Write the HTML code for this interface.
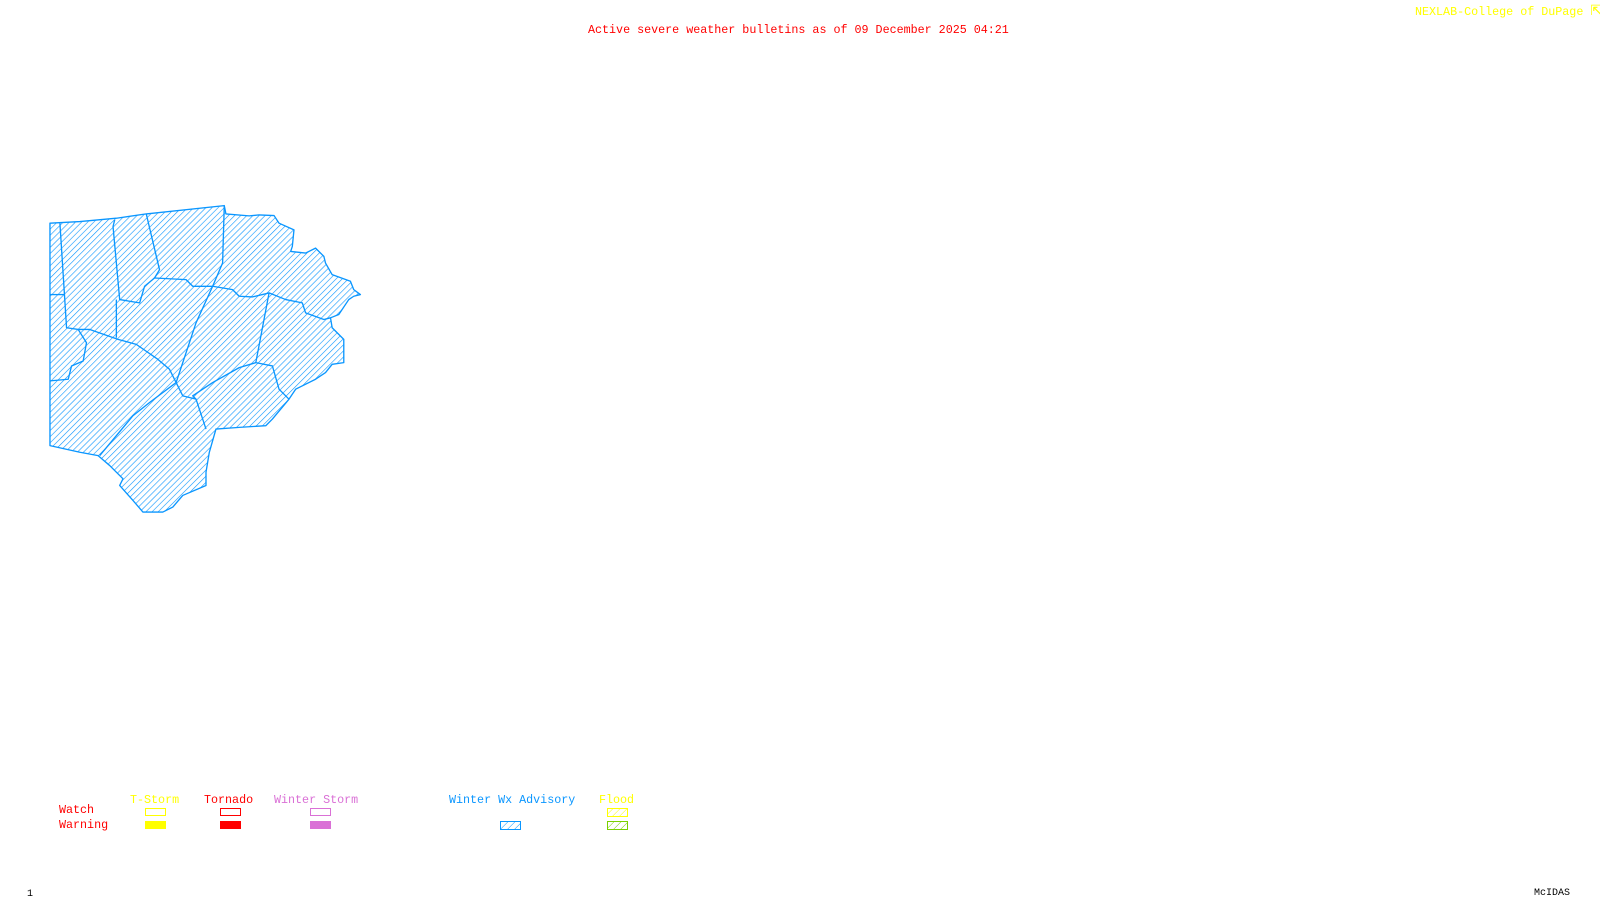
<!DOCTYPE html>
<html><head><meta charset="utf-8"><style>
html,body{margin:0;padding:0;background:#fff;}
body{width:1600px;height:900px;position:relative;overflow:hidden;font-family:"Liberation Mono",monospace;font-size:11.7px;}
.t{position:absolute;white-space:pre;line-height:12px;}
.b{position:absolute;box-sizing:border-box;width:21px;height:8px;}
</style></head><body>
<svg width="1600" height="900" style="position:absolute;left:0;top:0">
<defs>
<pattern id="h" patternUnits="userSpaceOnUse" width="13" height="13" patternTransform="rotate(45)">
<line x1="0" y1="0" x2="0" y2="13" stroke="#0a96ff" stroke-width="3.6"/>
</pattern>
<pattern id="h2" patternUnits="userSpaceOnUse" width="5" height="5" patternTransform="rotate(45)">
<line x1="0" y1="0" x2="0" y2="5" stroke="#0a96ff" stroke-width="1"/>
</pattern>
<pattern id="hy" patternUnits="userSpaceOnUse" width="5" height="5" patternTransform="rotate(45)">
<line x1="0" y1="0" x2="0" y2="5" stroke="#ffff00" stroke-width="1"/>
</pattern>
<pattern id="hg" patternUnits="userSpaceOnUse" width="5" height="5" patternTransform="rotate(45)">
<line x1="0" y1="0" x2="0" y2="5" stroke="#7ad000" stroke-width="1"/>
</pattern>
</defs>
<g transform="translate(40,190) scale(0.332)" fill="none" stroke="#0a96ff" stroke-width="4" stroke-linejoin="round">
<polygon fill="url(#h)" points="30,100 120,95 230,85 320,72 555,47 560,72 630,78 660,75 705,77 720,100 765,120 760,170 755,185 800,190 830,175 855,200 860,220 880,255 935,275 945,300 965,315 945,320 930,330 900,375 875,385 880,415 915,450 915,520 880,525 860,550 830,570 770,600 750,630 700,690 680,710 600,715 530,720 510,790 500,850 500,890 430,920 400,955 370,970 310,970 280,935 240,890 250,870 210,830 175,800 120,790 30,770"/>
<polyline points="60,100 80,415 115,420"/>
<polyline points="30,315 75,315"/>
<polyline points="115,420 150,420 235,450 290,465 355,510 390,540 410,580 430,620 470,630 500,720"/>
<polyline points="115,420 140,460 130,515 95,530 85,570 30,575"/>
<polyline points="225,90 220,110 240,330 300,340 315,290 345,265 360,240 320,72"/>
<polyline points="230,330 230,445"/>
<polyline points="345,265 440,270 460,290 520,290 550,220 555,47"/>
<polyline points="520,290 470,400 410,580"/>
<polyline points="520,290 580,300 600,320 640,322 690,310 740,330 790,340 800,370 855,390 875,385"/>
<polyline points="690,310 650,520 700,530 720,600 750,630"/>
<polyline points="650,520 600,535 520,580 460,620 470,630"/>
<polyline points="410,580 330,640 280,680 180,800"/>
</g>
<rect x="500.5" y="821.5" width="20" height="8" fill="url(#h2)" stroke="#0a96ff"/>
<rect x="607.5" y="808.5" width="20" height="8" fill="url(#hy)" stroke="#ffff00"/>
<rect x="607.5" y="821.5" width="20" height="8" fill="url(#hg)" stroke="#7ad000"/>
</svg>
<div class="t" style="left:588px;top:24px;color:#ff0000;">Active severe weather bulletins as of 09 December 2025 04:21</div>
<div class="t" style="left:1415px;top:6px;color:#ffff00;">NEXLAB-College of DuPage <span style="font-size:14px">⇱</span></div>
<div class="t" style="left:59px;top:804px;color:#ff0000;">Watch</div>
<div class="t" style="left:59px;top:819px;color:#ff0000;">Warning</div>
<div class="t" style="left:130px;top:794px;color:#ffff00;">T-Storm</div>
<div class="t" style="left:204px;top:794px;color:#ff0000;">Tornado</div>
<div class="t" style="left:274px;top:794px;color:#da70d6;">Winter Storm</div>
<div class="t" style="left:449px;top:794px;color:#0a96ff;">Winter Wx Advisory</div>
<div class="t" style="left:599px;top:794px;color:#ffff00;">Flood</div>
<div class="b" style="left:145px;top:808px;border:1px solid #ffff00;"></div>
<div class="b" style="left:145px;top:821px;background:#ffff00;"></div>
<div class="b" style="left:220px;top:808px;border:1px solid #ff0000;"></div>
<div class="b" style="left:220px;top:821px;background:#ff0000;"></div>
<div class="b" style="left:310px;top:808px;border:1px solid #da70d6;"></div>
<div class="b" style="left:310px;top:821px;background:#da70d6;"></div>
<div class="t" style="left:27px;top:889px;color:#000;font-size:10px;">1</div>
<div class="t" style="left:1534px;top:888px;color:#000;font-size:10px;">McIDAS</div>
</body></html>
